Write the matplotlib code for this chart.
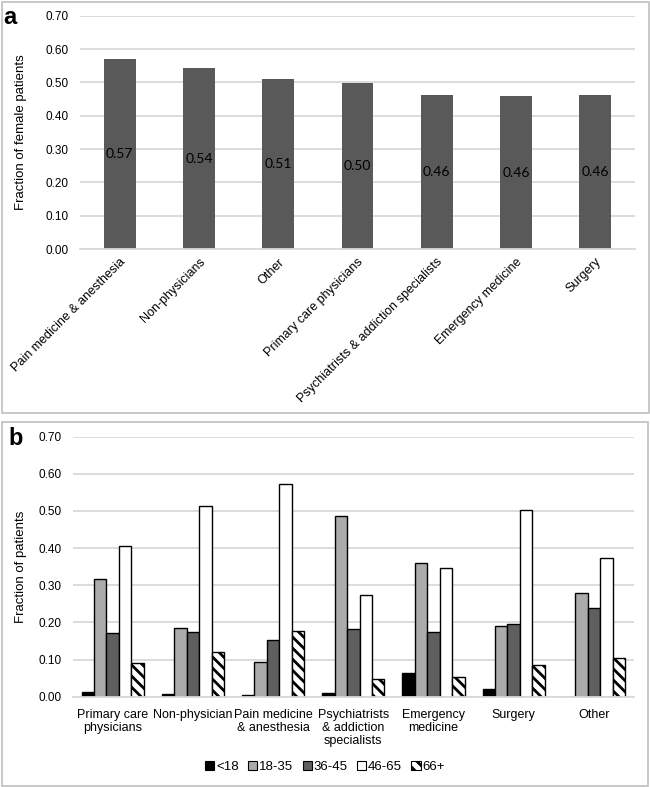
import numpy as np
import matplotlib
matplotlib.use("Agg")
import matplotlib.pyplot as plt
from matplotlib.patches import Rectangle, Patch

plt.rcParams['font.family'] = ['Liberation Sans', 'DejaVu Sans']
plt.rcParams['hatch.linewidth'] = 2.0

# panel a data
cats_a = ['Pain medicine & anesthesia', 'Non-physicians', 'Other',
          'Primary care physicians', 'Psychiatrists & addiction specialists',
          'Emergency medicine', 'Surgery']
female = [0.571, 0.542, 0.509, 0.498, 0.461, 0.458, 0.463]
female_lbl = ['0.57', '0.54', '0.51', '0.50', '0.46', '0.46', '0.46']

# panel b data
cats_b = ['Primary care\nphysicians', 'Non-physician', 'Pain medicine\n& anesthesia',
          'Psychiatrists\n& addiction\nspecialists', 'Emergency\nmedicine',
          'Surgery', 'Other']
age_groups = ['<18', '18-35', '36-45', '46-65', '66+']
age_lt18 = [0.012, 0.006, 0.004, 0.009, 0.064, 0.020, 0.0]
age_18_35 = [0.318, 0.184, 0.094, 0.486, 0.360, 0.191, 0.278]
age_36_45 = [0.172, 0.173, 0.153, 0.182, 0.173, 0.197, 0.240]
age_46_65 = [0.407, 0.514, 0.574, 0.274, 0.347, 0.504, 0.373]
age_66p = [0.090, 0.121, 0.176, 0.048, 0.053, 0.086, 0.105]
yticks = [0.0, 0.1, 0.2, 0.3, 0.4, 0.5, 0.6, 0.7]

W, H = 650, 787
fig = plt.figure(figsize=(W / 100, H / 100), dpi=100)

def px_axes(left, right, top, bottom):
    # pixel coords (from top-left) -> figure fraction
    return fig.add_axes([left / W, 1 - bottom / H, (right - left) / W, (bottom - top) / H])

grid_c = '#d9d9d9'

def style(ax):
    ax.set_ylim(0, 0.7)
    ax.set_yticks(yticks)
    ax.set_yticklabels(['%.2f' % t for t in yticks], fontsize=8.5)
    ax.yaxis.grid(True, color=grid_c, linewidth=1.3)
    ax.set_axisbelow(True)
    for s in ['top', 'right', 'left']:
        ax.spines[s].set_visible(False)
    ax.spines['bottom'].set_color(grid_c)
    ax.spines['bottom'].set_linewidth(1.3)
    ax.tick_params(length=0, pad=8)

# frames around panels
fig.patches.append(Rectangle((1.5 / W, 1 - 413 / H), 647 / W, 411.5 / H, transform=fig.transFigure,
                             fill=False, edgecolor='#bfbfbf', linewidth=1.2))
fig.patches.append(Rectangle((1.5 / W, 1 - 786 / H), 646.5 / W, 364 / H, transform=fig.transFigure,
                             fill=False, edgecolor='#bfbfbf', linewidth=1.2))

# ---- panel a ----
ax1 = px_axes(80, 635, 15.7, 249)
x = np.arange(len(cats_a))
ax1.bar(x, female, width=0.4, color='#595959')
for i, v in enumerate(female):
    ax1.text(i, v / 2, female_lbl[i], ha='center', va='center', fontsize=10,
             family=['Lato', 'DejaVu Sans'], color='#000000')
style(ax1)
ax1.set_xlim(-0.5, len(cats_a) - 0.5)
ax1.set_xticks(x)
ax1.set_xticklabels(cats_a, rotation=45, ha='right', rotation_mode='anchor', fontsize=9)
ax1.tick_params(axis='x', pad=5)
ax1.set_ylabel('Fraction of female patients', fontsize=9.5)
ax1.yaxis.set_label_coords(-0.095, 0.5)
fig.text(10 / W, 1 - 17 / H, 'a', fontsize=17, fontweight='bold', ha='center', va='center')

# ---- panel b ----
ax2 = px_axes(72.6, 634, 436.7, 696.7)
series = [age_lt18, age_18_35, age_36_45, age_46_65, age_66p]
colors = ['#000000', '#ababab', '#5f5f5f', '#ffffff', '#ffffff']
hatches = [None, None, None, None, '\\\\\\']
w = 0.155
xb = np.arange(len(cats_b))
for k, vals in enumerate(series):
    ax2.bar(xb + (k - 2) * w, vals, width=w, color=colors[k], edgecolor='black',
            linewidth=1.0, hatch=hatches[k], label=age_groups[k])
style(ax2)
ax2.set_xlim(-0.5, len(cats_b) - 0.5)
ax2.set_xticks(xb)
ax2.set_xticklabels(cats_b, fontsize=9, linespacing=1.1, va='top')
ax2.tick_params(axis='x', pad=9)
ax2.set_ylabel('Fraction of patients', fontsize=9.5)
ax2.yaxis.set_label_coords(-0.081, 0.5)
fig.text(16 / W, 1 - 438 / H, 'b', fontsize=17, fontweight='bold', ha='center', va='center')

handles = [Patch(facecolor=colors[k], edgecolor='black', linewidth=0.8, hatch=hatches[k])
           for k in range(5)]
fig.legend(handles, age_groups, loc='center', bbox_to_anchor=(0.5, 1 - 767 / H), ncol=5,
           frameon=False, fontsize=9.5, handlelength=0.7, handleheight=0.7,
           handletextpad=0.15, columnspacing=0.7)

fig.savefig('out.png', dpi=100)
